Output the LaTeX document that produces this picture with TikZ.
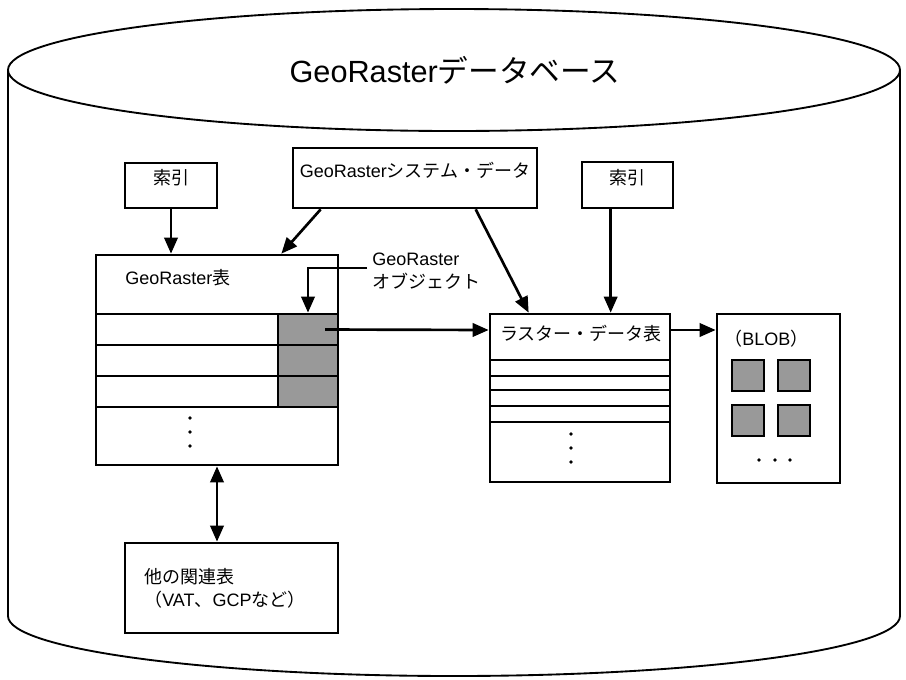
\documentclass[tikz,border=0pt]{standalone}
\usepackage{fontspec}
\setmainfont{Noto Sans CJK JP}
\newfontfamily\latin{Liberation Sans}
\usetikzlibrary{arrows.meta, positioning, fit, calc}

\begin{document}
\begin{tikzpicture}[x=0.75pt, y=-0.75pt,
    every node/.style={font=\fontsize{13.5}{17}\selectfont},
    box/.style={draw=black, line width=2pt, fill=white, inner sep=0pt},
    cell/.style={draw=black, line width=2pt, fill=black!40, inner sep=0pt},
    conn/.style={line width=2pt, -{Triangle[length=12pt, width=10pt]}},
    dot/.style={circle, fill=black, inner sep=0pt, minimum size=2.8pt}]
    \useasboundingbox (0,0) rectangle (906,679);

    % Database cylinder
    \draw[line width=1.4pt] (8,70) -- (8,616) arc[start angle=180, end angle=0, x radius=446, y radius=60] -- (900,70);
    \draw[line width=1.4pt] (454,70) ellipse[x radius=446, y radius=61];
    \node (title) at (455,70) {\fontsize{23}{27}\selectfont{\latin GeoRaster}データベース};

    % Index and system data boxes
    \node[box, fit={(125,163) (217,208)}] (idxL) {索引};
    \node[box, fit={(293,148) (537,208)}] (sysData) {{\latin GeoRaster}システム・データ};
    \node[box, fit={(582,162) (673,208)}] (idxR) {索引};

    % GeoRaster table
    \node[box, fit={(96,255) (338,465)}] (grTab) {};
    \node[anchor=west, inner sep=0pt] (grLabel) at (125,278) {{\latin GeoRaster}表};
    \foreach \y/\n in {314/1, 345/2, 376/3} {
        \draw[line width=2pt] (96,\y) rectangle (278,\y+31);
        \node[cell, fit={(278,\y) (338,\y+31)}] (obj\n) {};
    }
    \foreach \y/\n in {418/1, 432/2, 446/3}
        \node[dot] (grDot\n) at (190,\y) {};

    % GeoRaster object label
    \node[anchor=north west, align=left, inner sep=0pt] (objLabel) at (372,253) {{\latin GeoRaster}\\オブジェクト};
    \coordinate (objTag) at (367,268);
    \coordinate (rowY) at (0,330);

    % Raster data table
    \node[box, fit={(490,314) (670,482)}] (rasTab) {};
    \node[anchor=west, inner sep=0pt] (rasLabel) at (500,334) {ラスター・データ表};
    \foreach \y in {360, 376, 390, 406, 422}
        \draw[line width=2pt] (490,\y) -- (670,\y);
    \foreach \y/\n in {434/1, 448/2, 462/3}
        \node[dot] (rasDot\n) at (571,\y) {};

    % BLOB
    \node[box, fit={(717,314) (840,483)}] (blob) {};
    \node[anchor=west, inner sep=0pt] (blobLabel) at (724,339) {（{\latin BLOB}）};
    \foreach \x/\i in {732/1, 778/2}
        \foreach \y/\j in {360/1, 405/2}
            \node[cell, fit={(\x,\y) (\x+32,\y+31)}] (blk\i\j) {};
    \foreach \x/\n in {759/1, 775/2, 790/3}
        \node[dot] (blobDot\n) at (\x,460) {};

    % Other related tables
    \node[box, fit={(125,543) (338,633)}] (relTab) {};
    \node[anchor=west, align=left, inner sep=0pt] (relLabel) at (144,588) {他の関連表\\（{\latin VAT}、{\latin GCP}など）};
    \coordinate (linkX) at (217,0);

    % Connectors
    \draw[conn] (idxL.south) -- (idxL.south |- grTab.north);
    \draw[conn] ($(sysData.south west)+(29,0)$) -- ($(grTab.north east)+(-58,0)$);
    \draw[conn] ($(sysData.south west)+(184,0)$) -- ($(rasTab.north west)+(40,0)$);
    \draw[conn] ($(idxR.south west)+(30,0)$) -- ($(rasTab.north west)+(122,0)$);
    \draw[conn] (objTag) -| (obj1.north);
    \draw[conn] (obj1.center -| 325,0) -- (rasTab.west |- rowY);
    \draw[conn] (rasTab.east |- rowY) -- (blob.west |- rowY);
    \draw[conn, {Triangle[length=12pt, width=10pt]}-{Triangle[length=12pt, width=10pt]}] (grTab.south -| linkX) -- (relTab.north -| linkX);
\end{tikzpicture}
\end{document}
